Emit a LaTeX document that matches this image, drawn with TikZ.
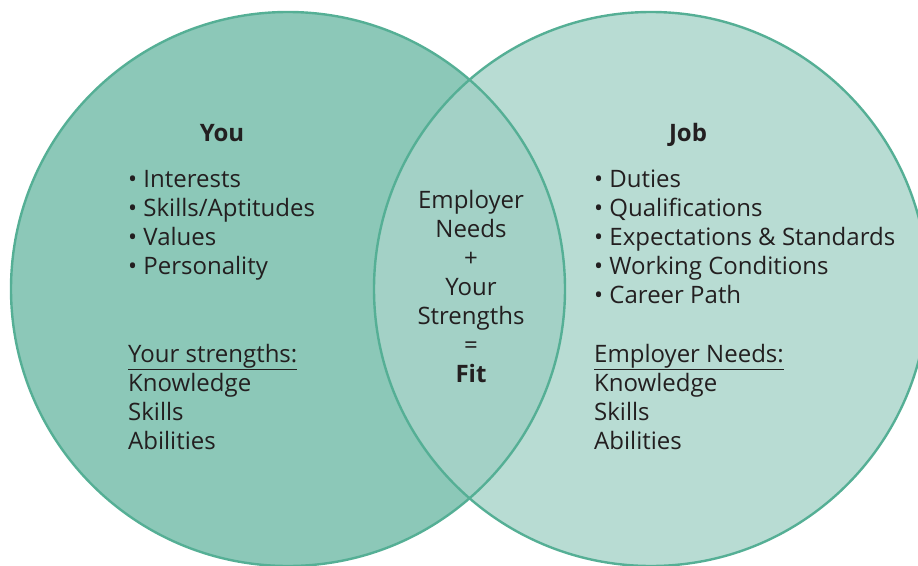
\documentclass[tikz,border=0pt]{standalone}
\usepackage{fontspec}
\setmainfont{Open Sans}
\usepackage{xcolor}
\usetikzlibrary{positioning}

\definecolor{youfill}{HTML}{8CC8B8}
\definecolor{jobfill}{HTML}{B8DCD3}
\definecolor{fitfill}{HTML}{A3D1C6}
\definecolor{ringcol}{HTML}{55AF95}
\definecolor{inkcol}{HTML}{231F20}

\begin{document}
\begin{tikzpicture}[
  x=1pt, y=-1pt,
  every node/.style={font=\fontsize{24}{29}\selectfont, text=inkcol, inner sep=0pt},
  ring/.style={draw=ringcol, line width=2.4pt},
  head/.style={font=\fontsize{24}{29}\selectfont\bfseries},
  block/.style={align=left, anchor=north west},
  midtext/.style={align=center, anchor=north},
]
\useasboundingbox (0,0) rectangle (918,565);

% circles
\fill[youfill] (288,289) circle (277);
\fill[jobfill] (651,289) circle (277);
\begin{scope}
  \clip (288,289) circle (277);
  \fill[fitfill] (651,289) circle (277);
\end{scope}
\draw[ring] (288,289) circle (277);
\draw[ring] (651,289) circle (277);

% left side
\node[head] (you) at (222,133) {You};
\node[block] (youlist) at (128,170)
  {• Interests\\• Skills/Aptitudes\\• Values\\• Personality};
\node[block] (youstr) at (128,344)
  {\underline{Your strengths:}\\Knowledge\\Skills\\Abilities};

% right side
\node[head] (job) at (688,135) {Job};
\node[block] (joblist) at (594,170)
  {• Duties\\• Qualifications\\• Expectations \& Standards\\• Working Conditions\\• Career Path};
\node[block] (jobneeds) at (594,344)
  {\underline{Employer Needs:}\\Knowledge\\Skills\\Abilities};

% overlap
\node[midtext] (fit) at (471,190)
  {Employer\\Needs\\+\\Your\\Strengths\\=\\\textbf{Fit}};
\end{tikzpicture}
\end{document}
